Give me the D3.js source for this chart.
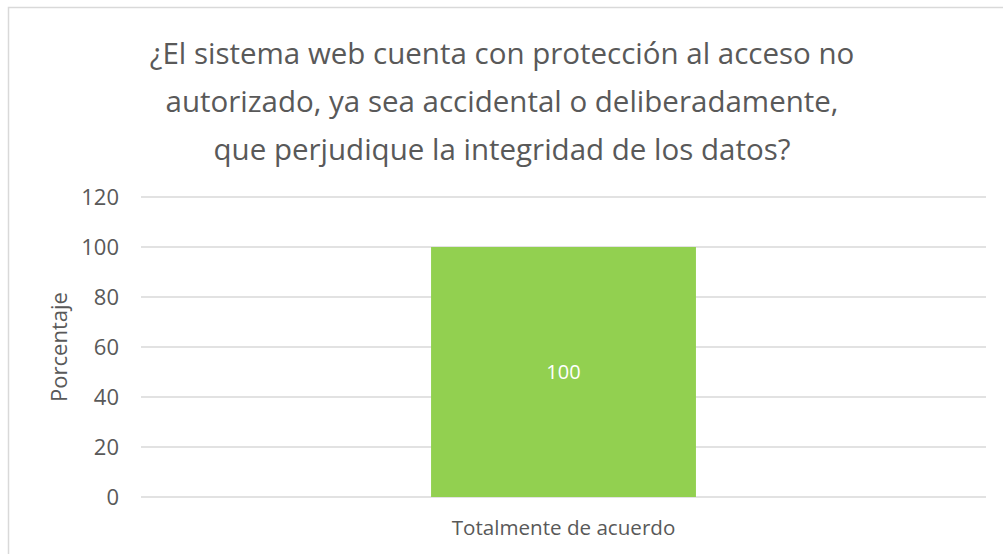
<!DOCTYPE html>
<html>
<head>
<meta charset="utf-8">
<script src="https://cdn.jsdelivr.net/npm/d3@7"></script>
<style>
  body { margin: 0; background: #fff; }
  svg { display: block; font-family: "Open Sans", "Noto Sans", sans-serif; }
</style>
</head>
<body>
<svg id="chart"></svg>
<script>
// data
const categories = ["Totalmente de acuerdo"];
const values = [100];
const yTicks = [0, 20, 40, 60, 80, 100, 120];
const titleLines = [
    "¿El sistema web cuenta con protección al acceso no",
    "autorizado, ya sea accidental o deliberadamente,",
    "que perjudique la integridad de los datos?"
];

let W = 1003, H = 554;
let margin = { top: 197, right: 17, bottom: 57, left: 141 },
    width = W - margin.left - margin.right,
    height = H - margin.top - margin.bottom;

const svg = d3.select('#chart').attr('width', W).attr('height', H);

// chart area border (runs off right / bottom edge)
svg.append('rect')
    .attr('x', 8.5).attr('y', 7.5)
    .attr('width', 1100).attr('height', 700)
    .attr('fill', '#fff')
    .attr('stroke', '#d9d9d9')
    .attr('stroke-width', 1.5)

// title
svg.append('text')
    .attr('text-anchor', 'middle')
    .style('fill', '#595959')
    .style('font-size', '29.5px')
    .selectAll('tspan')
    .data(titleLines)
    .enter().append('tspan')
    .attr('x', 502)
    .attr('y', (d, i) => 64 + i * 48)
    .text(d => d)

const g = svg.append('g')
    .attr('transform', `translate(${margin.left}, ${margin.top})`)

let x = d3.scaleBand().domain(categories).range([0, width]).paddingInner(0).paddingOuter(0)
let y = d3.scaleLinear().domain([0, 120]).range([height, 0])

// gridlines
g.selectAll('.grid')
    .data(yTicks)
    .enter().append('line')
    .attr('x1', 0).attr('x2', width)
    .attr('y1', d => y(d)).attr('y2', d => y(d))
    .style('stroke', '#d9d9d9')
    .style('stroke-width', 1.5)

// y axis labels
let yAxis = g.append('g')
    .call(d3.axisLeft(y).tickValues(yTicks).tickSize(0).tickPadding(22))
yAxis.select('.domain').remove()
yAxis.selectAll('text')
    .style('fill', '#595959')
    .style('font-size', '22px')
    .style('font-family', '"Open Sans", sans-serif')

// bars - gap width ~219%
let barW = x.bandwidth() / 3.19

g.selectAll('.bar')
    .data(values)
    .enter().append('rect')
    .attr('fill', '#92d050')
    .attr('x', (d, i) => x(categories[i]) + (x.bandwidth() - barW) / 2)
    .attr('y', d => y(d))
    .attr('width', barW)
    .attr('height', d => height - y(d))

// data labels
g.selectAll('.lbl')
    .data(values)
    .enter().append('text')
    .attr('x', (d, i) => x(categories[i]) + x.bandwidth() / 2)
    .attr('y', d => (y(d) + height) / 2)
    .attr('dy', '0.35em')
    .attr('text-anchor', 'middle')
    .style('fill', '#fff')
    .style('font-size', '20px')
    .text(d => d)

// category labels
let xAxis = g.append('g')
    .attr('transform', `translate(0, ${height})`)
    .call(d3.axisBottom(x).tickSize(0).tickPadding(23))
xAxis.select('.domain').remove()
xAxis.selectAll('text')
    .style('fill', '#595959')
    .style('font-size', '20.6px')
    .style('font-family', '"Open Sans", sans-serif')

// y axis title
svg.append('text')
    .attr('transform', 'rotate(-90)')
    .attr('x', -347)
    .attr('y', 59)
    .attr('dy', '0.35em')
    .attr('text-anchor', 'middle')
    .style('fill', '#595959')
    .style('font-size', '22px')
    .text("Porcentaje")
</script>
</body>
</html>
